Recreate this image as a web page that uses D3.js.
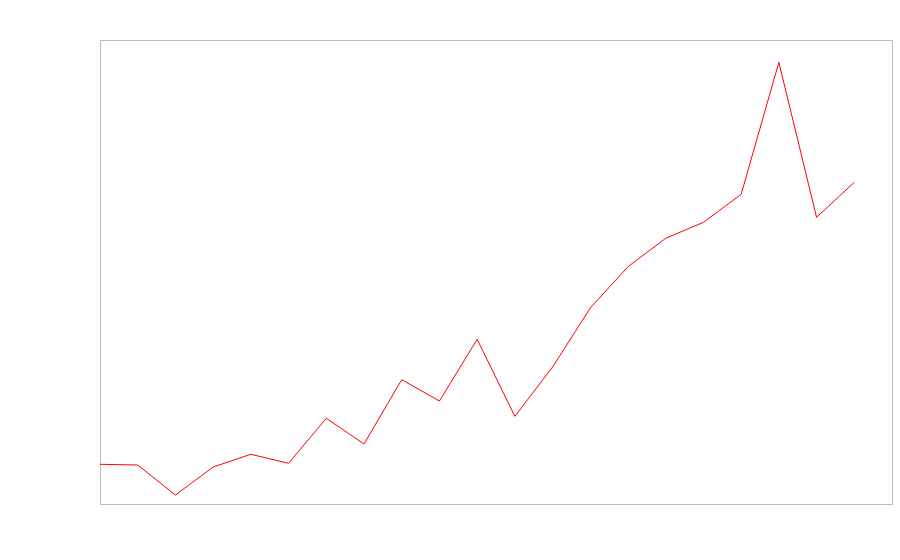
<!DOCTYPE html>
<html>
<head>
<meta charset="utf-8">
<script src="https://cdn.jsdelivr.net/npm/d3@7"></script>
<style>
  html, body { margin: 0; padding: 0; background: #fff; }
  svg { display: block; }
</style>
</head>
<body>
<svg id="chart" width="900" height="560"></svg>
<script>
const categories = d3.range(21).map(i => "P" + (i + 1));
const values = [39.7, 39, 9, 37, 49.7, 40.7, 85.7, 60, 124.3, 103, 164.7, 87.7, 137, 196, 237.3, 265.7, 281.7, 309.7, 441.7, 286.7, 321.7];

const margin = {left: 100, top: 40, right: 8, bottom: 56};
const W = 900, H = 560;
const iw = W - margin.left - margin.right;
const ih = H - margin.top - margin.bottom;

const svg = d3.select("#chart");

const x = d3.scaleLinear().domain([0, categories.length]).range([margin.left, margin.left + iw]);
const y = d3.scaleLinear().domain([0, 464]).range([margin.top + ih, margin.top]);

svg.append("rect")
  .attr("x", margin.left + 0.5).attr("y", margin.top + 0.5)
  .attr("width", iw).attr("height", ih)
  .attr("fill", "none").attr("stroke", "#bdbdbd").attr("stroke-width", 1);

const line = d3.line()
  .x((d, i) => x(i))
  .y(d => y(d));

svg.append("path")
  .datum(values)
  .attr("d", line)
  .attr("fill", "none")
  .attr("stroke", "red")
  .attr("stroke-width", 1);
</script>
</body>
</html>
